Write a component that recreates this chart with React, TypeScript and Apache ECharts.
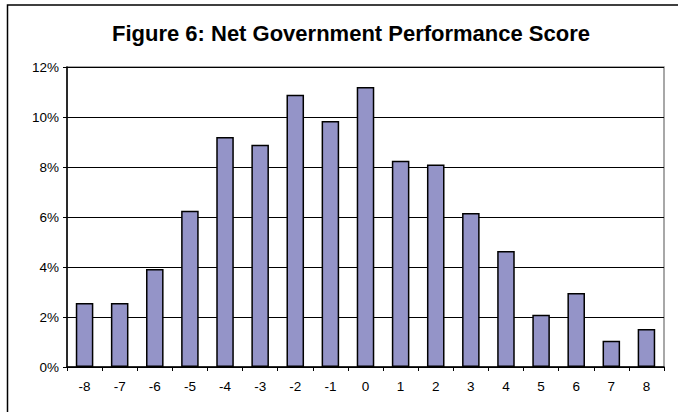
import React, { useEffect, useRef } from "react";
import * as echarts from "echarts";

const categories = ["-8", "-7", "-6", "-5", "-4", "-3", "-2", "-1", "0", "1", "2", "3", "4", "5", "6", "7", "8"];
const shares = [2.56, 2.56, 3.92, 6.25, 9.2, 8.89, 10.89, 9.84, 11.2, 8.25, 8.1, 6.16, 4.64, 2.09, 2.96, 1.05, 1.52];
const titleText = "Figure 6: Net Government Performance Score";

export default function App() {
  const ref = useRef<HTMLDivElement>(null);
  useEffect(() => {
    if (!ref.current) return;
    const chart = echarts.init(ref.current, undefined, { renderer: "svg" });
    chart.setOption({
      animation: false,
      backgroundColor: "#ffffff",
      graphic: [
        {
          type: "rect",
          shape: { x: 7.5, y: 5, width: 700, height: 430 },
          style: { fill: "none", stroke: "#000000", lineWidth: 1.5 },
          silent: true,
        },
      ],
      title: {
        text: titleText,
        left: 346,
        textAlign: "center",
        top: 17,
        textStyle: {
          fontFamily: "Liberation Sans, Arial, sans-serif",
          fontWeight: "bold",
          fontSize: 22,
          color: "#000000",
        },
      },
      grid: {
        left: 67,
        right: 14,
        top: 67,
        bottom: 45,
        show: true,
        borderColor: "#8c8c8c",
        borderWidth: 1.5,
        backgroundColor: "#ffffff",
      },
      xAxis: {
        type: "category",
        data: categories,
        boundaryGap: true,
        axisLine: { show: true, lineStyle: { color: "#000000", width: 1.5 } },
        axisTick: { show: true, length: 4, alignWithLabel: false, lineStyle: { color: "#000000" } },
        axisLabel: {
          margin: 12,
          fontFamily: "Liberation Sans, Arial, sans-serif",
          fontSize: 13.5,
          color: "#000000",
          interval: 0,
        },
      },
      yAxis: {
        type: "value",
        min: 0,
        max: 12,
        interval: 2,
        axisLine: { show: true, lineStyle: { color: "#000000", width: 1.5 } },
        axisTick: { show: true, length: 4, lineStyle: { color: "#000000" } },
        axisLabel: {
          formatter: "{value}%",
          margin: 8,
          fontFamily: "Liberation Sans, Arial, sans-serif",
          fontSize: 13.5,
          color: "#000000",
        },
        splitLine: { show: true, lineStyle: { color: "#000000", width: 1 } },
      },
      series: [
        {
          type: "bar",
          data: shares,
          barCategoryGap: "50%",
          itemStyle: { color: "#9494c8", borderColor: "#000000", borderWidth: 1.5 },
        },
      ],
    });
    return () => chart.dispose();
  }, []);
  return (
    <div
      ref={ref}
      style={{ position: "absolute", left: 0, top: 0, width: 678, height: 412 }}
    />
  );
}
